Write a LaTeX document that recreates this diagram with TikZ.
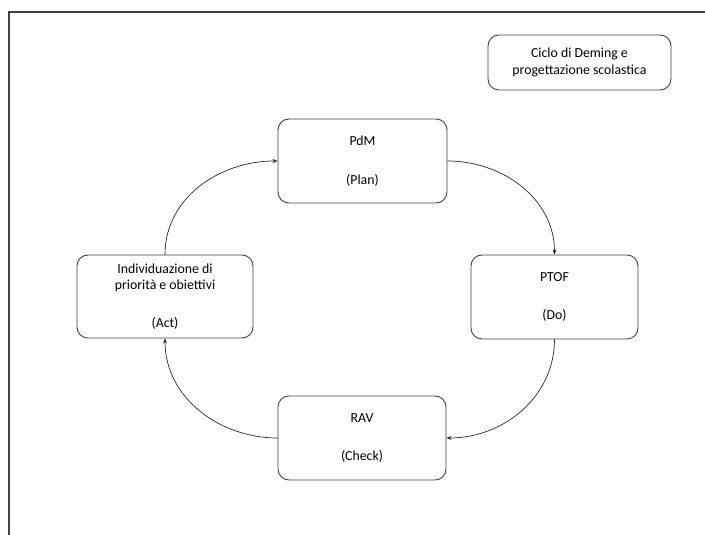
\documentclass[tikz,border=0pt]{standalone}
\usepackage{fontspec}
\setmainfont{Carlito}
\usetikzlibrary{arrows.meta}
\definecolor{edge}{HTML}{404040}
\begin{document}
\begin{tikzpicture}[x=1pt,y=1pt,
  stage/.style={draw=edge, line width=0.9pt, rounded corners=11pt, fill=white,
    inner sep=0pt, align=center, font=\fontsize{13.8}{16.8}\selectfont},
  cycle/.style={draw=black!85, line width=0.7pt, -{Stealth[length=5pt,width=4pt]}}]
  \useasboundingbox (0,0) rectangle (705,535);
  % page frame: top and left rules
  \coordinate (ftl) at (9,523);
  \coordinate (ftr) at (705,523);
  \coordinate (fbl) at (9,0);
  \draw[edge, line width=2pt] (ftr) -- (ftl) -- (fbl);
  % title
  \node[stage, minimum width=183pt, minimum height=55pt] (title) at (579.5,472.5)
    {Ciclo di Deming e\\progettazione scolastica};
  % the four stages
  \node[stage, minimum width=169pt, minimum height=84pt] (plan) at (362.5,374)
    {PdM\\[22pt](Plan)};
  \node[stage, minimum width=167pt, minimum height=84pt] (do) at (554.5,238)
    {PTOF\\[22pt](Do)};
  \node[stage, minimum width=168pt, minimum height=84pt] (check) at (362,97)
    {RAV\\[21pt](Check)};
  \node[stage, minimum width=176pt, minimum height=83pt] (act) at (165,238.5)
    {Individuazione di\\priorità e obiettivi\\[21pt](Act)};
  % cycle arrows
  \draw[cycle] (plan.east) to[out=0,in=90] (do.north);
  \draw[cycle] (do.south) to[out=-90,in=0] (check.east);
  \draw[cycle] (check.west) to[out=180,in=-90] (act.south);
  \draw[cycle] (act.north) to[out=90,in=180] (plan.west);
\end{tikzpicture}
\end{document}
